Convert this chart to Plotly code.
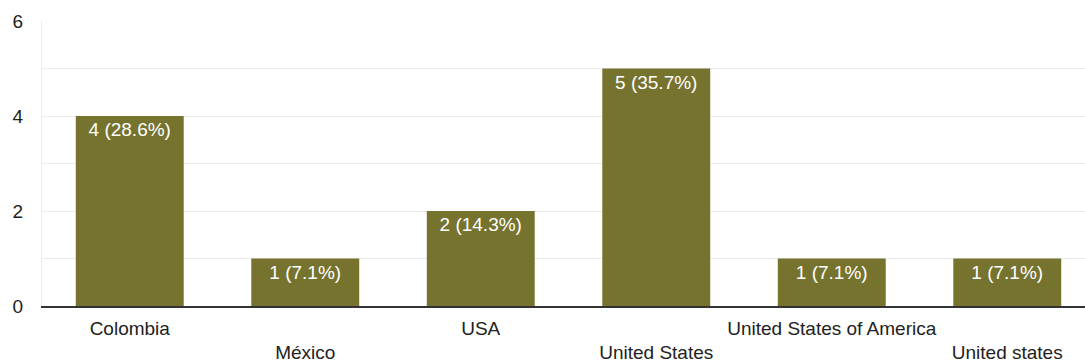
import plotly.graph_objects as go

categories = ["Colombia", "México", "USA", "United States", "United States of America", "United states"]
counts = [4, 1, 2, 5, 1, 1]
percents = [28.6, 7.1, 14.3, 35.7, 7.1, 7.1]
y_ticks = [0, 2, 4, 6]

labels = [f"{c} ({p}%)" for c, p in zip(counts, percents)]
ticktext = [c if i % 2 == 0 else "&nbsp;<br>" + c for i, c in enumerate(categories)]

FONT = "Liberation Sans, Arial, sans-serif"

fig = go.Figure(go.Bar(
    x=list(range(len(categories))),
    y=counts,
    text=labels,
    textposition="inside",
    insidetextanchor="end",
    textangle=0,
    textfont=dict(color="white", size=19, family=FONT),
    marker=dict(color="#76732f", line=dict(width=0)),
    width=0.615,
    hoverinfo="skip",
))

fig.update_layout(
    width=1085, height=362,
    margin=dict(l=42, r=0, t=21, b=56),
    plot_bgcolor="white", paper_bgcolor="white",
    showlegend=False,
    font=dict(family=FONT, size=19, color="#222222"),
    xaxis=dict(
        tickmode="array",
        tickvals=list(range(len(categories))),
        ticktext=ticktext,
        range=[-0.5, 5.443],
        showgrid=False,
        ticks="",
        ticklabelstandoff=4,
        showline=True, linecolor="#333333", linewidth=1.5,
        tickfont=dict(size=19, color="#222222"),
        automargin=False,
        fixedrange=True,
    ),
    yaxis=dict(
        range=[0, 6],
        tickmode="array",
        tickvals=y_ticks,
        showgrid=True, gridcolor="#ebebeb", gridwidth=1,
        minor=dict(dtick=1, showgrid=True, gridcolor="#ebebeb", gridwidth=1),
        zeroline=False,
        showline=True, linecolor="#ebebeb", linewidth=1,
        ticks="",
        ticklabelstandoff=14,
        tickfont=dict(size=19, color="#222222"),
        automargin=False,
        fixedrange=True,
    ),
)

fig.write_html("out.html")
